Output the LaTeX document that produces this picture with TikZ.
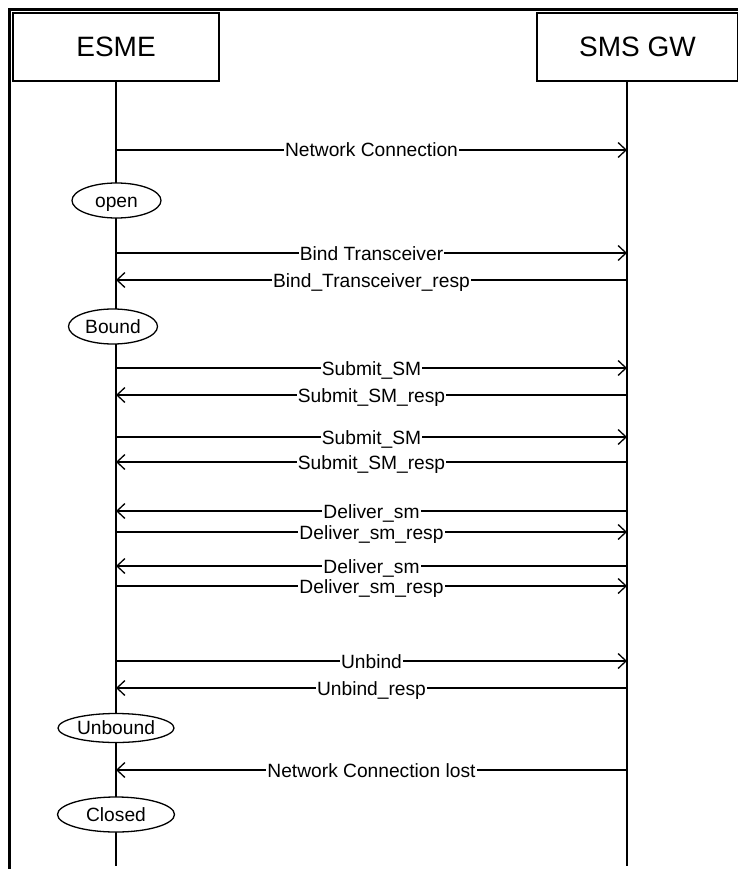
\documentclass[tikz,border=0pt]{standalone}
\usepackage{fontspec}
\setmainfont{Liberation Sans}
\usetikzlibrary{arrows.meta,shapes.geometric}
\begin{document}
\begin{tikzpicture}[x=1pt,y=-1pt,
  ln/.style={line width=1.3pt},
  msg/.style={ln,-{Straight Barb[length=8pt,width=15pt,line width=1.3pt]}},
  lbl/.style={fill=white,inner xsep=1.2pt,inner ysep=0pt,anchor=base,yshift=-7pt,font=\fontsize{19.2}{22}\selectfont},
  actor/.style={draw,ln,rectangle,inner sep=0pt,minimum height=68pt,text height=20pt,text depth=0pt,font=\fontsize{28}{32}\selectfont},
  state/.style={draw,ln,ellipse,fill=white,inner sep=0pt,text height=13.8pt,text depth=0pt,font=\fontsize{19.2}{22}\selectfont}]
\useasboundingbox (0,0) rectangle (737,869);
% frame
\coordinate (ftl) at (9.5,9.5);
\coordinate (ftr) at (740,9.5);
\coordinate (fbl) at (9.5,872);
\draw[line width=3pt] (ftr) -- (ftl) -- (fbl);
% actors
\node[actor,minimum width=206pt] (esme) at (116,47) {ESME};
\node[actor,minimum width=201pt] (gw) at (637.5,47) {SMS GW};
\coordinate (eend) at (116,866);
\coordinate (gend) at (627,866);
\draw[ln] (esme.south) -- (eend);
\draw[ln] (gw.south -| gend) -- (gend);
% message coordinates
\foreach \n/\y in {1/150,2/253,3/280,4/368,5/395,6/437,7/462,8/511,9/532,10/566,11/586,12/661,13/688,14/770}{
  \coordinate (e\n) at (116,\y);
  \coordinate (g\n) at (627,\y);
}
\draw[msg] (e1) -- node[lbl]{Network Connection} (g1);
\draw[msg] (e2) -- node[lbl]{Bind Transceiver} (g2);
\draw[msg] (g3) -- node[lbl]{Bind\_Transceiver\_resp} (e3);
\draw[msg] (e4) -- node[lbl]{Submit\_SM} (g4);
\draw[msg] (g5) -- node[lbl]{Submit\_SM\_resp} (e5);
\draw[msg] (e6) -- node[lbl]{Submit\_SM} (g6);
\draw[msg] (g7) -- node[lbl]{Submit\_SM\_resp} (e7);
\draw[msg] (g8) -- node[lbl]{Deliver\_sm} (e8);
\draw[msg] (e9) -- node[lbl]{Deliver\_sm\_resp} (g9);
\draw[msg] (g10) -- node[lbl]{Deliver\_sm} (e10);
\draw[msg] (e11) -- node[lbl]{Deliver\_sm\_resp} (g11);
\draw[msg] (e12) -- node[lbl]{Unbind} (g12);
\draw[msg] (g13) -- node[lbl]{Unbind\_resp} (e13);
\draw[msg] (g14) -- node[lbl]{Network Connection lost} (e14);
% states
\node[state,minimum width=89pt,minimum height=35pt] (sopen) at (116.5,200.5) {open};
\node[state,minimum width=89pt,minimum height=35pt] (sbound) at (113,326.5) {Bound};
\node[state,minimum width=116pt,minimum height=29pt] (sunbound) at (116,728) {Unbound};
\node[state,minimum width=117pt,minimum height=35pt] (sclosed) at (116,814.5) {Closed};
\end{tikzpicture}
\end{document}
